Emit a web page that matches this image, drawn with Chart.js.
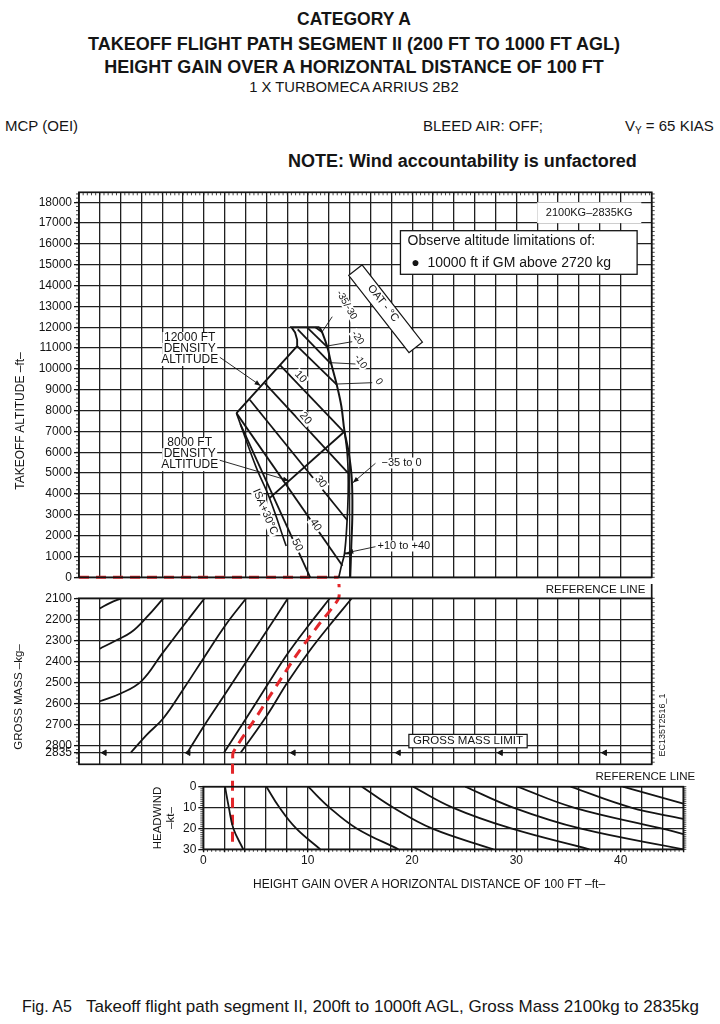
<!DOCTYPE html>
<html><head><meta charset="utf-8">
<title>Category A - Takeoff flight path segment II</title>
<script src="https://cdn.jsdelivr.net/npm/chart.js@4.4.1/dist/chart.umd.min.js"></script>
<style>
html,body{margin:0;padding:0;background:#fff}
body{width:720px;height:1024px;position:relative;overflow:hidden;font-family:"Liberation Sans",Arial,Helvetica,sans-serif;color:#151515}
.t{position:absolute;white-space:nowrap;line-height:1}
.c{left:0;width:708px;text-align:center}
.pane{position:absolute}
.rot{position:absolute;white-space:nowrap;line-height:1;transform:translate(-50%,-50%) rotate(-90deg)}
</style></head><body>
<div class="t c" style="top:11px;font-size:17.5px;font-weight:bold">CATEGORY A</div>
<div class="t c" style="top:35px;font-size:18px;font-weight:bold">TAKEOFF FLIGHT PATH SEGMENT II (200 FT TO 1000 FT AGL)</div>
<div class="t c" style="top:58px;font-size:18px;font-weight:bold">HEIGHT GAIN OVER A HORIZONTAL DISTANCE OF 100 FT</div>
<div class="t c" style="top:80px;font-size:14.8px">1 X TURBOMECA ARRIUS 2B2</div>
<div class="t" style="left:5px;top:118px;font-size:15px">MCP (OEI)</div>
<div class="t" style="left:423px;top:118px;font-size:15px">BLEED AIR: OFF;</div>
<div class="t" style="left:625px;top:118px;font-size:15px">V<span style="font-size:10px;position:relative;top:3px">Y</span> = 65 KIAS</div>
<div class="t" style="left:288px;top:152px;font-size:18px;font-weight:bold">NOTE: Wind accountability is unfactored</div>

<div class="pane" style="left:0;top:178px;width:720px;height:412px"><canvas id="cTop" width="720" height="412"></canvas></div>
<div class="pane" style="left:0;top:584px;width:720px;height:192px"><canvas id="cMid" width="720" height="192"></canvas></div>
<div class="pane" style="left:148px;top:762px;width:572px;height:138px"><canvas id="cBot" width="572" height="138"></canvas></div>

<div class="rot" style="left:20px;top:421px;font-size:12px">TAKEOFF ALTITUDE –ft–</div>
<div class="rot" style="left:19px;top:697px;font-size:11.5px">GROSS MASS –kg–</div>
<div class="rot" style="left:158px;top:818px;font-size:11.5px">HEADWIND</div>
<div class="rot" style="left:171px;top:818px;font-size:11.5px">–kt–</div>
<div class="t" style="left:253px;top:878px;font-size:12px">HEIGHT GAIN OVER A HORIZONTAL DISTANCE OF 100 FT –ft–</div>
<div class="t" style="left:22px;top:999px;font-size:16px">Fig. A5</div>
<div class="t" style="left:86px;top:998px;font-size:17px">Takeoff flight path segment II, 200ft to 1000ft AGL, Gross Mass 2100kg to 2835kg</div>

<script>
// ======================= DATA =======================
// tick labels
const altitudeTicks = [0,1000,2000,3000,4000,5000,6000,7000,8000,9000,10000,11000,12000,13000,14000,15000,16000,17000,18000];
const massTicks = [2100,2200,2300,2400,2500,2600,2700,2800,2835];
const headwindTicks = [0,10,20,30];
const gainTicks = [0,10,20,30,40];

// ---- Top panel: [height-gain position, takeoff altitude ft]
const oatM35M30 = [[10.7,12000],[11.4,11750]];
const oatM20 = [[9.9,12000],[11.85,11050]];
const oatM10 = [[9.0,11900],[12.2,10250]];
const oat0 = [[8.95,11100],[12.75,9250]];
const oat10 = [[7.28,10200],[13.5,6950]];
const oat20 = [[5.84,9320],[13.85,5000]];
const oat30 = [[4.4,8520],[13.75,2750]];
const oat40 = [[3.12,7880],[13.3,550]];
const oat50 = [[3.5,7350],[10.2,0]];
const isaPlus30 = [[3.12,7880],[5.0,5300],[6.3,3800],[7.9,1500]];
const densityAlt12000 = [[3.12,7880],[8.95,11100],[8.95,11400],[8.75,11750],[8.4,12000],[11.1,12000]];
const densityAlt8000 = [[6.3,3800],[13.5,7000]];
const limitMinus35To0 = [[11.1,12000],[11.4,11700],[11.85,11050],[12.2,10300],[12.75,9250],[13.2,8200],[13.5,7000],[13.9,6000],[14.2,4700],[14.25,3000],[14.15,1500],[14.05,0]];
const limitPlus10To40 = [[13.5,7000],[13.75,6000],[13.85,5000],[13.85,4000],[13.75,2750],[13.5,1150],[13.2,550],[12.95,0]];

// ---- Middle panel: [height-gain position, gross mass kg]
const massCurve1 = [[-10,2148],[-9,2122],[-7.93,2100]];
const massCurve2 = [[-10,2340],[-8.5,2302],[-7,2262],[-5.5,2190],[-3.9,2100]];
const massCurve3 = [[-10,2590],[-8,2553],[-6,2494],[-4,2362],[-2,2232],[0.06,2100]];
const massCurve4 = [[-7.04,2835],[-5.5,2750],[-3.9,2671],[-1.92,2528],[0.06,2378],[2.08,2227],[4.06,2100]];
const massCurve5 = [[-1.6,2835],[0.06,2703],[2.08,2552],[4.06,2402],[6.08,2251],[8.06,2100]];
const massCurve6 = [[1.92,2835],[4.06,2671],[6.08,2513],[8.06,2362],[10.08,2227],[12.09,2100]];
const massCurve7 = [[3.52,2835],[6.08,2655],[8.06,2497],[10.08,2354],[12.09,2227],[14.2,2100]];
const grossMassLimitArrows = [-9.55,-1.5,8.6,18.7,28.5,38.5];

// ---- Bottom panel: [height gain ft, headwind kt]
const windCurveA = [[2.08,0],[2.45,10],[2.88,20],[3.83,30]];
const windCurveB = [[6.05,0],[7.3,10],[8.9,20],[11.2,30]];
const windCurveC = [[10.05,0],[12.1,10],[14.7,20],[18.7,30]];
const windCurveD = [[15.2,0],[18.2,10],[21.9,20],[27.8,30]];
const windCurveE = [[20.1,0],[23.9,10],[29.5,20],[37.0,30]];
const windCurveF = [[25.1,0],[29.7,10],[36.1,20],[46,30]];
const windCurveG = [[30.1,0],[35.5,10],[43.9,20],[46,22.7]];
const windCurveH = [[35.2,0],[41.0,10],[46,15.4]];
const windCurveI = [[40.2,0],[43.1,4],[46,8.1]];

// ---- Worked example (red dashed)
const exampleAltitude = [[-12,0],[12.93,0]];
const exampleMass = [[12.93,2000],[12.93,2100],[11.0,2227],[9.0,2362],[7.0,2513],[4.95,2671],[2.8,2835],[2.8,2890]];
const exampleWind = [[2.8,-11],[2.8,29]];

// ======================= HELPERS =======================
const FONT = '"Liberation Sans", Arial, Helvetica, sans-serif';
const INK = '#141414', GRID = '#202020', RED = '#e3262a';
Chart.defaults.font.family = FONT;
Chart.defaults.color = INK;

function ser(pts, opt) {
  return Object.assign({data: pts.map(p => ({x: p[0], y: p[1]})), showLine: true, pointRadius: 0,
    borderColor: INK, borderWidth: 1.8, tension: 0, fill: false}, opt || {});
}
const curve = {tension: 0.4};
const redDash = {borderColor: RED, borderWidth: 3, borderDash: [10, 7], clip: false};

function P(chart, x, y) { return [chart.scales.x.getPixelForValue(x), chart.scales.y.getPixelForValue(y)]; }

const decor = {
  id: 'decor',
  afterDatasetsDraw(chart, args, o) {
    const ctx = chart.ctx, a = chart.chartArea;
    ctx.save();
    ctx.strokeStyle = INK; ctx.fillStyle = INK; ctx.lineCap = 'butt';
    (o.minor || []).forEach(m => {
      const sc = chart.scales[m.axis];
      ctx.lineWidth = 0.8; ctx.beginPath();
      for (let v = m.from; v <= m.to + 1e-9; v += m.step) {
        const p = sc.getPixelForValue(v);
        if (m.side === 'left') { ctx.moveTo(a.left, p); ctx.lineTo(a.left - m.len, p); }
        if (m.side === 'right') { ctx.moveTo(a.right, p); ctx.lineTo(a.right + m.len, p); }
        if (m.side === 'top') { ctx.moveTo(p, a.top); ctx.lineTo(p, a.top + m.len); }
        if (m.side === 'bottom') { ctx.moveTo(p, a.bottom); ctx.lineTo(p, a.bottom + m.len); }
      }
      ctx.stroke();
    });
    (o.boxes || []).forEach(b => {
      const [x1, y1] = P(chart, b.x1, b.y1), [x2, y2] = P(chart, b.x2, b.y2);
      ctx.fillStyle = '#fff';
      ctx.fillRect(Math.min(x1, x2), Math.min(y1, y2), Math.abs(x2 - x1), Math.abs(y2 - y1));
      if (b.stroke) { ctx.lineWidth = b.lw || 1.2; ctx.strokeStyle = INK; ctx.strokeRect(Math.min(x1, x2), Math.min(y1, y2), Math.abs(x2 - x1), Math.abs(y2 - y1)); }
    });
    (o.rboxes || []).forEach(b => {
      const [cx, cy] = P(chart, b.x, b.y);
      ctx.save(); ctx.translate(cx, cy); ctx.rotate(b.rot * Math.PI / 180);
      ctx.fillStyle = '#fff'; ctx.fillRect(-b.w / 2, -b.h / 2, b.w, b.h);
      ctx.lineWidth = 1.2; ctx.strokeStyle = INK; ctx.strokeRect(-b.w / 2, -b.h / 2, b.w, b.h);
      ctx.restore();
    });
    ctx.fillStyle = INK; ctx.strokeStyle = INK;
    (o.leaders || []).forEach(l => {
      const [x1, y1] = P(chart, l.from[0], l.from[1]), [x2, y2] = P(chart, l.to[0], l.to[1]);
      ctx.lineWidth = l.lw || 0.9;
      ctx.beginPath(); ctx.moveTo(x1, y1); ctx.lineTo(x2, y2); ctx.stroke();
      if (l.arrow) {
        const an = Math.atan2(y2 - y1, x2 - x1), L = 6, W = 2.4;
        ctx.beginPath(); ctx.moveTo(x2, y2);
        ctx.lineTo(x2 - L * Math.cos(an) + W * Math.sin(an), y2 - L * Math.sin(an) - W * Math.cos(an));
        ctx.lineTo(x2 - L * Math.cos(an) - W * Math.sin(an), y2 - L * Math.sin(an) + W * Math.cos(an));
        ctx.closePath(); ctx.fill();
      }
    });
    (o.texts || []).forEach(t => {
      const [px, py] = P(chart, t.x, t.y);
      ctx.save(); ctx.translate(px, py); if (t.rot) ctx.rotate(t.rot * Math.PI / 180);
      ctx.font = (t.bold ? 'bold ' : '') + t.size + 'px ' + FONT;
      ctx.textAlign = t.align || 'center'; ctx.textBaseline = 'middle';
      const lines = Array.isArray(t.text) ? t.text : [t.text];
      const lh = t.lh || t.size;
      lines.forEach((s, i) => {
        const yy = (i - (lines.length - 1) / 2) * lh;
        if (t.bg) {
          const w = ctx.measureText(s).width;
          const x0 = ctx.textAlign === 'center' ? -w / 2 : (ctx.textAlign === 'right' ? -w : 0);
          ctx.fillStyle = '#fff'; ctx.fillRect(x0 - 1.5, yy - t.size * 0.5, w + 3, t.size);
        }
        ctx.fillStyle = INK; ctx.fillText(s, 0, yy);
      });
      ctx.restore();
    });
    ctx.lineWidth = 1.7; ctx.strokeStyle = INK;
    ctx.strokeRect(a.left, a.top, a.right - a.left, a.bottom - a.top);
    (o.extraLines || []).forEach(e => {
      ctx.beginPath(); ctx.moveTo(a.right, a.top + e.dy1); ctx.lineTo(a.right, a.top + e.dy2); ctx.stroke();
    });
    ctx.restore();
  }
};

function yAxis(ticksArr, min, max, width, reverse) {
  return {
    type: 'linear', min, max, reverse: !!reverse,
    afterBuildTicks: s => { s.ticks = ticksArr.map(v => ({value: v})); },
    ticks: {callback: v => String(v), font: {size: 12}, padding: 2, autoSkip: false, color: INK},
    grid: {color: GRID, lineWidth: 1.3, tickLength: 5, tickColor: INK},
    border: {display: false},
    afterFit: s => { s.width = width; }
  };
}
const hiddenX = (min, max) => ({
  type: 'linear', min, max,
  ticks: {display: false, stepSize: 2},
  grid: {color: GRID, lineWidth: 1.3, drawTicks: false},
  border: {display: false},
  afterFit: s => { s.height = 0; }
});
const common = {animation: false, responsive: false, events: [],
  plugins: {legend: {display: false}, tooltip: {enabled: false}}};

// ======================= TOP PANEL =======================
new Chart(document.getElementById('cTop'), {
  type: 'scatter',
  data: {datasets: [
    ser(densityAlt12000, {borderWidth: 1.9}),
    ser(densityAlt8000, {borderWidth: 1.9}),
    ser(isaPlus30, Object.assign({borderWidth: 1.6}, curve)),
    ser(oat50), ser(oat40), ser(oat30), ser(oat20), ser(oat10),
    ser(oat0), ser(oatM10), ser(oatM20), ser(oatM35M30),
    ser(limitMinus35To0, Object.assign({borderWidth: 2}, curve)),
    ser(limitPlus10To40, Object.assign({borderWidth: 1.7}, curve)),
    ser(exampleAltitude, redDash)
  ]},
  options: Object.assign({}, common, {
    layout: {padding: {left: 0, right: 68.3, top: 14.3, bottom: 12.7}},
    scales: {x: hiddenX(-12, 43), y: yAxis(altitudeTicks, 0, 18480, 79)},
    plugins: Object.assign({}, common.plugins, {decor: {
      minor: [
        {axis: 'y', side: 'left', from: 0, to: 18400, step: 200, len: 3},
        {axis: 'y', side: 'right', from: 0, to: 18400, step: 200, len: 3},
        {axis: 'x', side: 'top', from: -12, to: 43, step: 0.4, len: 3}
      ],
      boxes: [
        {x1: 32, x2: 42, y1: 17000, y2: 18000},
        {x1: 18.87, x2: 41.6, y1: 14544, y2: 16637, stroke: true, lw: 1.3}
      ],
      rboxes: [{x: 17.44, y: 12888, w: 98, h: 17, rot: 52}],
      leaders: [
        {from: [1.44, 10589], to: [5.44, 9200], arrow: true},
        {from: [1.44, 5630], to: [8.16, 4640], arrow: true},
        {from: [12.32, 12509], to: [11.36, 11789]},
        {from: [14.24, 11309], to: [11.84, 11102]},
        {from: [14.56, 10238], to: [12.2, 10301]},
        {from: [16.16, 9341], to: [12.8, 9278]},
        {from: [16.47, 5472], to: [14.3, 4541], arrow: true},
        {from: [16.47, 1469], to: [13.76, 1181], arrow: true},
        {from: [13.45, 1150], to: [14.15, 1150], lw: 2}
      ],
      texts: [
        {text: ['12000 FT', 'DENSITY', 'ALTITUDE'], x: -1.37, y: 10958, size: 12, lh: 11, bg: true},
        {text: ['8000 FT', 'DENSITY', 'ALTITUDE'], x: -1.37, y: 5910, size: 12, lh: 11, bg: true},
        {text: '2100KG–2835KG', x: 37, y: 17500, size: 11},
        {text: 'Observe altitude limitations of:', x: 19.55, y: 16142, size: 14, align: 'left'},
        {text: '●  10000 ft if GM above 2720 kg', x: 19.9, y: 15072, size: 14, align: 'left'},
        {text: 'OAT - °C', x: 17.2, y: 13150, size: 11, rot: 52},
        {text: '-35/-30', x: 13.7, y: 13070, size: 10, rot: 60, bg: true},
        {text: '-20', x: 14.76, y: 11490, size: 10, rot: 55, bg: true},
        {text: '-10', x: 15.04, y: 10349, size: 10, rot: 55, bg: true},
        {text: '0', x: 16.8, y: 9389, size: 10, rot: 55, bg: true},
        {text: '−35 to 0', x: 17.05, y: 5486, size: 11, align: 'left', bg: true},
        {text: '+10 to +40', x: 16.67, y: 1502, size: 11, align: 'left', bg: true},
        {text: '10', x: 9.28, y: 9614, size: 11, rot: 47, bg: true},
        {text: '20', x: 9.76, y: 7632, size: 11, rot: 50, bg: true},
        {text: '30', x: 11.2, y: 4589, size: 11, rot: 53, bg: true},
        {text: '40', x: 10.72, y: 2510, size: 11, rot: 56, bg: true},
        {text: '50', x: 8.96, y: 1550, size: 11, rot: 63, bg: true},
        {text: 'ISA+30°C', x: 5.87, y: 3144, size: 11, rot: 67, bg: true}
      ]
    }})
  }),
  plugins: [decor]
});

// ======================= MIDDLE PANEL =======================
new Chart(document.getElementById('cMid'), {
  type: 'scatter',
  data: {datasets: [
    ser(massCurve1, curve), ser(massCurve2, curve), ser(massCurve3, curve), ser(massCurve4, curve),
    ser(massCurve5, curve), ser(massCurve6, curve), ser(massCurve7, curve),
    {data: grossMassLimitArrows.map(x => ({x, y: 2835})), showLine: false, pointStyle: 'triangle',
     rotation: -90, pointRadius: 3.2, backgroundColor: INK, borderColor: INK, borderWidth: 1},
    ser(exampleMass, Object.assign({}, redDash, {tension: 0.2}))
  ]},
  options: Object.assign({}, common, {
    layout: {padding: {left: 0, right: 68.3, top: 14.3, bottom: 11.7}},
    scales: {x: hiddenX(-12, 43), y: yAxis(massTicks, 2100, 2890, 79, true)},
    plugins: Object.assign({}, common.plugins, {decor: {
      minor: [
        {axis: 'y', side: 'left', from: 2100, to: 2880, step: 20, len: 3},
        {axis: 'y', side: 'right', from: 2100, to: 2880, step: 20, len: 3}
      ],
      boxes: [{x1: 19.68, x2: 31.04, y1: 2747.6, y2: 2811.4, stroke: true, lw: 1.2}],
      extraLines: [{dy1: -22, dy2: 0}],
      texts: [
        {text: 'REFERENCE LINE', x: 42.39, y: 2060.5, size: 11.5, align: 'right'},
        {text: 'GROSS MASS LIMIT', x: 25.36, y: 2780, size: 11.5},
        {text: 'EC135T2516_1', x: 44.0, y: 2703, size: 9, rot: -90}
      ]
    }})
  }),
  plugins: [decor]
});

// ======================= BOTTOM PANEL =======================
new Chart(document.getElementById('cBot'), {
  type: 'scatter',
  data: {datasets: [
    ser(windCurveA, curve), ser(windCurveB, curve), ser(windCurveC, curve), ser(windCurveD, curve),
    ser(windCurveE, curve), ser(windCurveF, curve), ser(windCurveG, curve), ser(windCurveH, curve),
    ser(windCurveI, curve),
    ser(exampleWind, redDash)
  ]},
  options: Object.assign({}, common, {
    layout: {padding: {left: 0, right: 36.7, top: 24.7, bottom: 20.7}},
    scales: {
      x: {type: 'linear', min: 0, max: 46,
          ticks: {stepSize: 2, autoSkip: false, maxRotation: 0, font: {size: 12}, padding: 1, color: INK,
                  callback: v => gainTicks.includes(v) ? String(v) : ''},
          grid: {color: GRID, lineWidth: 1.3, tickLength: 3, tickColor: INK},
          border: {display: false},
          afterFit: s => { s.height = 30; }},
      y: yAxis(headwindTicks, 0, 30, 55.3, true)
    },
    plugins: Object.assign({}, common.plugins, {decor: {
      minor: [
        {axis: 'y', side: 'left', from: 0, to: 30, step: 1, len: 3},
        {axis: 'y', side: 'right', from: 0, to: 30, step: 1, len: 3},
        {axis: 'x', side: 'bottom', from: 0, to: 46, step: 0.4, len: 2.5}
      ],
      texts: [
        {text: 'REFERENCE LINE', x: 47.14, y: -4.65, size: 11.5, align: 'right'}
      ]
    }})
  }),
  plugins: [decor]
});
</script>
</body></html>
